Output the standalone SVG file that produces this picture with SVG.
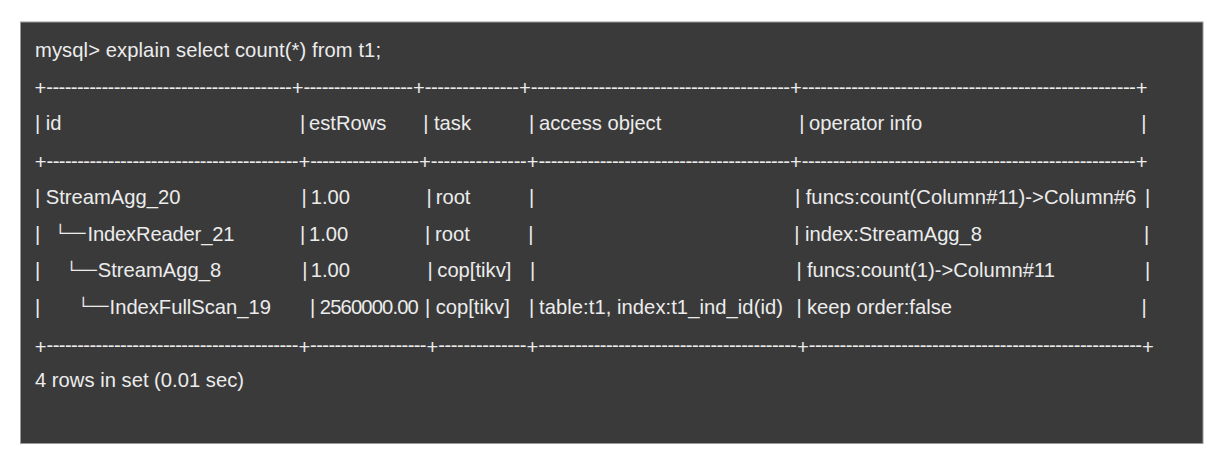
<svg xmlns="http://www.w3.org/2000/svg" width="1225" height="462" viewBox="0 0 1225 462">
<style>
.t { font-family: "Liberation Sans", Arial, sans-serif; font-size: 20.2px; fill: #ececec; }
.tree { font-family: "DejaVu Sans", sans-serif; font-size: 16.4px; fill: #ececec; }
.p { text-anchor: middle; }
</style>
<rect x="0" y="0" width="1225" height="462" fill="#ffffff"/>
<rect id="terminal" x="20.5" y="22" width="1182.5" height="421.5" fill="#3a3a3a" stroke="#9a9a9a" stroke-width="1"/>
<g id="prompt">
<text class="t" x="35" y="57" textLength="346" lengthAdjust="spacing">mysql&gt; explain select count(*) from t1;</text>
</g>
<g id="rules">
<g id="rule-top">
<text class="t p" x="40.5" y="95.3">+</text>
<text class="t p" x="297.7" y="95.3">+</text>
<text class="t p" x="419" y="95.3">+</text>
<text class="t p" x="525" y="95.3">+</text>
<text class="t p" x="796" y="95.3">+</text>
<text class="t p" x="1141.7" y="95.3">+</text>
<text class="t" x="46.3" y="94.1" textLength="245.5" lengthAdjust="spacing">----------------------------------------</text>
<text class="t" x="303.5" y="94.1" textLength="109.6" lengthAdjust="spacing">------------------</text>
<text class="t" x="424.8" y="94.1" textLength="94.3" lengthAdjust="spacing">---------------</text>
<text class="t" x="530.8" y="94.1" textLength="259.3" lengthAdjust="spacing">------------------------------------------</text>
<text class="t" x="801.8" y="94.1" textLength="334" lengthAdjust="spacing">------------------------------------------------------</text>
</g>
<g id="rule-mid">
<text class="t p" x="40.7" y="169.1">+</text>
<text class="t p" x="304.5" y="169.1">+</text>
<text class="t p" x="425" y="169.1">+</text>
<text class="t p" x="532.7" y="169.1">+</text>
<text class="t p" x="796" y="169.1">+</text>
<text class="t p" x="1141.7" y="169.1">+</text>
<text class="t" x="46.5" y="167.9" textLength="252.1" lengthAdjust="spacing">-----------------------------------------</text>
<text class="t" x="310.3" y="167.9" textLength="108.8" lengthAdjust="spacing">------------------</text>
<text class="t" x="430.8" y="167.9" textLength="96" lengthAdjust="spacing">---------------</text>
<text class="t" x="538.5" y="167.9" textLength="251.6" lengthAdjust="spacing">-----------------------------------------</text>
<text class="t" x="801.8" y="167.9" textLength="334" lengthAdjust="spacing">------------------------------------------------------</text>
</g>
<g id="rule-bottom">
<text class="t p" x="40.7" y="353.6">+</text>
<text class="t p" x="304.3" y="353.6">+</text>
<text class="t p" x="432.5" y="353.6">+</text>
<text class="t p" x="532.5" y="353.6">+</text>
<text class="t p" x="803" y="353.6">+</text>
<text class="t p" x="1148" y="353.6">+</text>
<text class="t" x="46.5" y="352.4" textLength="251.9" lengthAdjust="spacing">-----------------------------------------</text>
<text class="t" x="310.1" y="352.4" textLength="116.5" lengthAdjust="spacing">-------------------</text>
<text class="t" x="438.3" y="352.4" textLength="88.3" lengthAdjust="spacing">--------------</text>
<text class="t" x="538.3" y="352.4" textLength="258.8" lengthAdjust="spacing">------------------------------------------</text>
<text class="t" x="808.8" y="352.4" textLength="333.3" lengthAdjust="spacing">------------------------------------------------------</text>
</g>
</g>
<g id="header">
<text class="t" x="34.9" y="130.4">|</text>
<text class="t" x="45.7" y="130.4">id</text>
<text class="t" x="299.9" y="130.4">|</text>
<text class="t" x="309" y="130.4">estRows</text>
<text class="t" x="423.2" y="130.4">|</text>
<text class="t" x="434" y="130.4">task</text>
<text class="t" x="528.9" y="130.4">|</text>
<text class="t" x="539" y="130.4">access object</text>
<text class="t" x="799.2" y="130.4">|</text>
<text class="t" x="809" y="130.4">operator info</text>
<text class="t" x="1141.2" y="130.4">|</text>
</g>
<g id="row-streamagg-20">
<text class="t" x="34.9" y="203.8">|</text>
<text class="t" x="45.7" y="203.8">StreamAgg_20</text>
<text class="t" x="301.5" y="203.8">|</text>
<text class="t" x="310.7" y="203.8">1.00</text>
<text class="t" x="426.5" y="203.8">|</text>
<text class="t" x="435.7" y="203.8">root</text>
<text class="t" x="528.9" y="203.8">|</text>
<text class="t" x="794.9" y="203.8">|</text>
<text class="t" x="805.7" y="203.8" textLength="330.6" lengthAdjust="spacing">funcs:count(Column#11)-&gt;Column#6</text>
<text class="t" x="1144.9" y="203.8">|</text>
</g>
<g id="row-indexreader-21">
<text class="t" x="34.9" y="240.5">|</text>
<text class="tree" x="55.5" y="239" textLength="30" lengthAdjust="spacingAndGlyphs">└──</text>
<text class="t" x="87.5" y="240.5" textLength="147" lengthAdjust="spacing">IndexReader_21</text>
<text class="t" x="299.9" y="240.5">|</text>
<text class="t" x="309" y="240.5">1.00</text>
<text class="t" x="424.9" y="240.5">|</text>
<text class="t" x="435" y="240.5">root</text>
<text class="t" x="528.2" y="240.5">|</text>
<text class="t" x="794.2" y="240.5">|</text>
<text class="t" x="805" y="240.5" textLength="177" lengthAdjust="spacing">index:StreamAgg_8</text>
<text class="t" x="1143.9" y="240.5">|</text>
</g>
<g id="row-streamagg-8">
<text class="t" x="34.9" y="277.2">|</text>
<text class="tree" x="66.8" y="275.7" textLength="30" lengthAdjust="spacingAndGlyphs">└──</text>
<text class="t" x="97.8" y="277.2">StreamAgg_8</text>
<text class="t" x="302.2" y="277.2">|</text>
<text class="t" x="310.7" y="277.2">1.00</text>
<text class="t" x="427.5" y="277.2">|</text>
<text class="t" x="437.3" y="277.2">cop[tikv]</text>
<text class="t" x="529.9" y="277.2">|</text>
<text class="t" x="796.5" y="277.2">|</text>
<text class="t" x="807" y="277.2" textLength="248" lengthAdjust="spacing">funcs:count(1)-&gt;Column#11</text>
<text class="t" x="1144.9" y="277.2">|</text>
</g>
<g id="row-indexfullscan-19">
<text class="t" x="34.9" y="313.9">|</text>
<text class="tree" x="78.5" y="312.4" textLength="30" lengthAdjust="spacingAndGlyphs">└──</text>
<text class="t" x="109.6" y="313.9" textLength="161.3" lengthAdjust="spacing">IndexFullScan_19</text>
<text class="t" x="310" y="313.9">|</text>
<text class="t" x="319.8" y="313.9" textLength="99" lengthAdjust="spacing">2560000.00</text>
<text class="t" x="424.9" y="313.9">|</text>
<text class="t" x="435.7" y="313.9">cop[tikv]</text>
<text class="t" x="528.9" y="313.9">|</text>
<text class="t" x="539" y="313.9" textLength="244" lengthAdjust="spacing">table:t1, index:t1_ind_id(id)</text>
<text class="t" x="796.5" y="313.9">|</text>
<text class="t" x="807" y="313.9" textLength="145" lengthAdjust="spacing">keep order:false</text>
<text class="t" x="1141.5" y="313.9">|</text>
</g>
<g id="footer">
<text class="t" x="35" y="387.3" textLength="209" lengthAdjust="spacing">4 rows in set (0.01 sec)</text>
</g>
</svg>
